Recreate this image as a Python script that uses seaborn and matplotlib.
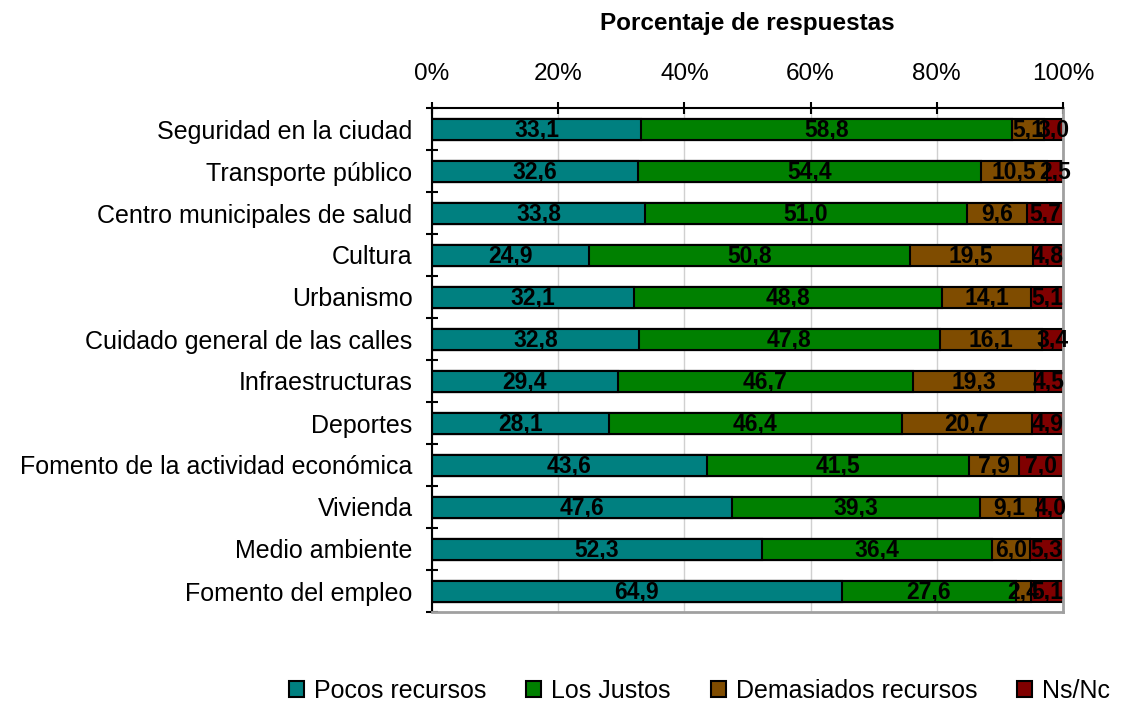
import numpy as np
import pandas as pd
import seaborn as sns
import matplotlib.pyplot as plt
from matplotlib.patches import Patch

categorias = ["Seguridad en la ciudad", "Transporte público", "Centro municipales de salud",
              "Cultura", "Urbanismo", "Cuidado general de las calles", "Infraestructuras",
              "Deportes", "Fomento de la actividad económica", "Vivienda", "Medio ambiente",
              "Fomento del empleo"]
pocos = [33.1, 32.6, 33.8, 24.9, 32.1, 32.8, 29.4, 28.1, 43.6, 47.6, 52.3, 64.9]
justos = [58.8, 54.4, 51.0, 50.8, 48.8, 47.8, 46.7, 46.4, 41.5, 39.3, 36.4, 27.6]
demasiados = [5.1, 10.5, 9.6, 19.5, 14.1, 16.1, 19.3, 20.7, 7.9, 9.1, 6.0, 2.4]
nsnc = [3.0, 2.5, 5.7, 4.8, 5.1, 3.4, 4.5, 4.9, 7.0, 4.0, 5.3, 5.1]
series = ["Pocos recursos", "Los Justos", "Demasiados recursos", "Ns/Nc"]
colores = ["#008080", "#008000", "#7F4C00", "#800000"]

sns.set_style("white")
plt.rcParams['font.family'] = ['Liberation Sans', 'DejaVu Sans']
plt.rcParams['text.color'] = 'black'
plt.rcParams['xtick.color'] = 'black'
plt.rcParams['ytick.color'] = 'black'
plt.rcParams['axes.labelcolor'] = 'black'

df = pd.DataFrame({"cat": categorias, series[0]: pocos, series[1]: justos,
                   series[2]: demasiados, series[3]: nsnc})
vals = df[series].to_numpy()
# normalise to 100%
pct = vals / vals.sum(axis=1, keepdims=True) * 100
cum = np.cumsum(pct, axis=1)

fig = plt.figure(figsize=(11.27, 7.03), dpi=100)
ax = fig.add_axes([432 / 1127, 1 - 612 / 703, 631 / 1127, 504 / 703])

# stacked bars: draw cumulative totals from the back
for i in range(3, -1, -1):
    sns.barplot(x=cum[:, i], y=df["cat"], color=colores[i], orient="h",
                width=0.5, edgecolor="black", linewidth=1.5, saturation=1, ax=ax)

for r in range(len(categorias)):
    start = 0
    for i in range(4):
        mid = start + pct[r, i] / 2
        ax.text(mid, r + 0.03, f"{vals[r, i]:.1f}".replace(".", ","), ha="center", va="center",
                fontsize=16.5, fontweight="bold", color="black")
        start += pct[r, i]

ax.set_xlim(0, 100)
ax.set_ylim(len(categorias) - 0.5, -0.5)
ax.xaxis.tick_top()
ax.xaxis.set_label_position("top")
ax.set_xticks([0, 20, 40, 60, 80, 100])
ax.set_xticklabels(["0%", "20%", "40%", "60%", "80%", "100%"], fontsize=17.5)
ax.tick_params(axis="x", direction="inout", length=9, width=1.5, pad=12, top=True, bottom=False)
ax.set_yticks(range(len(categorias)))
ax.set_yticklabels(categorias, fontsize=18)
ax.set_yticks(np.arange(-0.5, len(categorias) + 0.5, 1), minor=True)
ax.tick_params(axis="y", which="major", length=0, pad=14)
ax.tick_params(axis="y", which="minor", direction="inout", length=9, width=1.5, left=True)
ax.set_xlabel("Porcentaje de respuestas", fontsize=17.5, fontweight="bold", labelpad=24)
ax.set_ylabel("")
ax.grid(axis="x", color="#d0d0d0", linewidth=1)
ax.set_axisbelow(True)
for s in ["left", "top"]:
    ax.spines[s].set_color("black")
    ax.spines[s].set_linewidth(1.5)
for s in ["right", "bottom"]:
    ax.spines[s].set_color("#a0a0a0")
    ax.spines[s].set_linewidth(2)

handles = [Patch(facecolor=c, edgecolor="black", linewidth=1.5, label=s) for c, s in zip(colores, series)]
fig.legend(handles=handles, loc="lower right", bbox_to_anchor=(1.005, -0.032), ncol=4, frameon=False,
           fontsize=18, handlelength=0.6, handleheight=0.6, handletextpad=0.4, columnspacing=1.6)

fig.savefig("out.png", dpi=100)
